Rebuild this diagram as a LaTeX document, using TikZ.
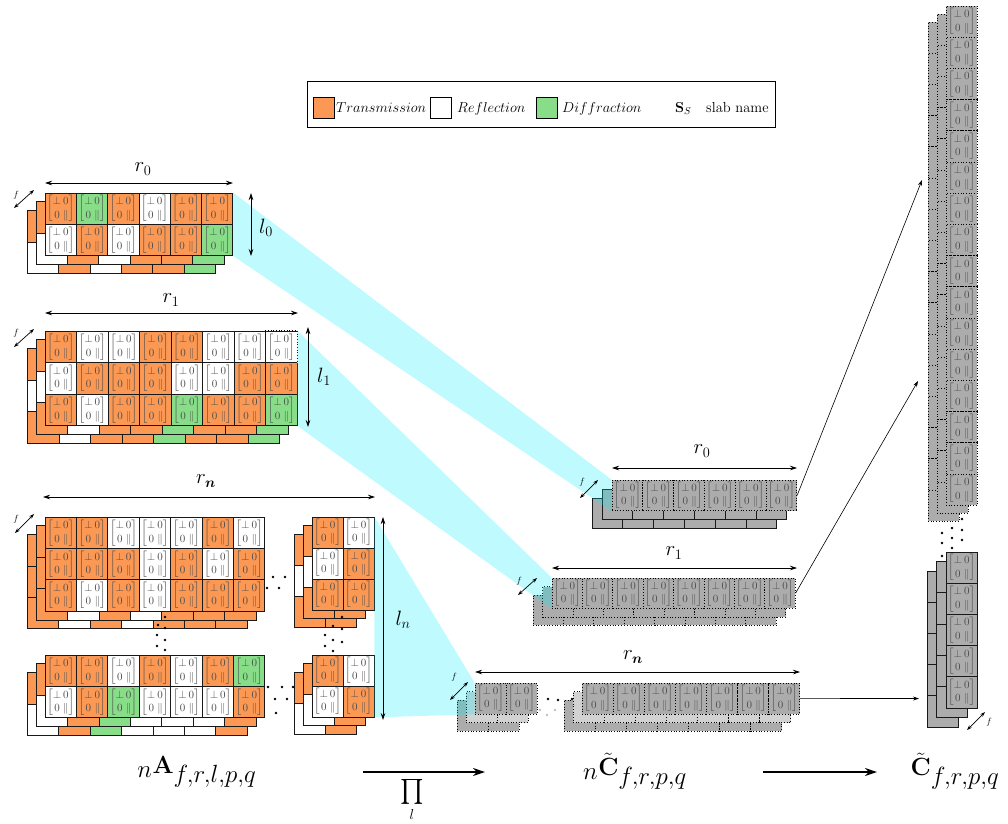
\documentclass[tikz,border=0pt]{standalone}
\usepackage{graphicx}
\usepackage{exscale}
\usepackage{bm}
\usetikzlibrary{arrows.meta}
\DeclareMathSizes{27}{27}{24.5}{17}
\DeclareMathSizes{30}{30}{15}{10}
\DeclareMathSizes{20}{20}{14}{10}
\DeclareMathSizes{14.5}{14.5}{10}{7}
\DeclareMathSizes{10.5}{10.5}{7.5}{5.5}
\definecolor{cO}{RGB}{250,152,84}
\definecolor{cG}{RGB}{136,221,136}
\definecolor{cW}{RGB}{255,255,255}
\definecolor{cD}{RGB}{172,172,172}
\definecolor{cL}{RGB}{210,210,210}
\definecolor{bandcol}{RGB}{0,240,250}
\newcommand\mtx{$\left[\begin{array}{@{}c@{\,}c@{}}\perp&0\\0&\|\end{array}\right]$}
\def\cellsz{31}\def\odx{9}\def\ody{9}\def\lname{x}
\newcommand\mylayer[5]{%
  \foreach \rw [count=\j from 0] in {#3}{%
    \foreach \cc [count=\i from 0] in \rw{%
      \node[cellbox,fill=\cc,#4] (\lname-\j-\i) at ({#1+(\i+0.5)*\cellsz},{#2+(\j+0.5)*\cellsz}) {#5};
    }%
  }%
}
\newcommand\myslab[4]{%
  \def\lname{#4c}\mylayer{#1-2*\odx}{#2+2*\ody}{#3}{}{}%
  \def\lname{#4b}\mylayer{#1-\odx}{#2+\ody}{#3}{}{}%
  \def\lname{#4a}\mylayer{#1}{#2}{#3}{}{\mtx}%
}
\newcommand\mygl[6]{%
  \foreach \j in {1,...,#4}{\foreach \i in {1,...,#3}{%
    \node[cellbox,fill=cD,#5] (\lname-\j-\i) at ({#1+(\i-0.5)*\cellsz},{#2+(\j-0.5)*\cellsz}) {#6};}}%
}
\newcommand\mygslab[8]{%
  \def\lname{#5c}\mygl{#1-2*\odx}{#2+2*\ody}{#3}{#4}{#6}{}%
  \def\lname{#5b}\mygl{#1-\odx}{#2+\ody}{#3}{#4}{#7}{}%
  \def\lname{#5a}\mygl{#1}{#2}{#3}{#4}{#8}{\mtx}%
}
\tikzset{
  cellbox/.style={draw=black!90,line width=0.7pt,minimum size=\cellsz pt,inner sep=0pt,
    text=black!70,font=\fontsize{10.5}{13.5}\selectfont},
  dotb/.style={dotted,draw=black},
  bandc/.style={fill=bandcol,fill opacity=0.25},
  dimarr/.style={{Stealth[length=7pt,width=4.5pt]}-{Stealth[length=7pt,width=4.5pt]},line width=0.7pt},
  farr/.style={{Stealth[length=5pt,width=3.5pt]}-{Stealth[length=5pt,width=3.5pt]},line width=0.7pt},
  conn/.style={-{Stealth[length=6pt,width=4pt]},line width=0.6pt},
  bigarr/.style={-{Stealth[length=12pt,width=8pt]},line width=1.5pt},
  lab/.style={font=\fontsize{20}{24}\selectfont,inner sep=0pt},
  flab/.style={font=\fontsize{9}{10}\selectfont,inner sep=0pt},
  big/.style={font=\fontsize{27}{32}\selectfont,inner sep=0pt},
  legsq/.style={draw,minimum size=21pt,inner sep=0pt,line width=0.7pt},
  legt/.style={font=\fontsize{14.5}{17}\selectfont,inner sep=0pt,anchor=base west},
  dot/.style={fill=black},
  gdot/.style={fill=black!25}
}
\begin{document}
\begin{tikzpicture}[x=1pt,y=-1pt]
\useasboundingbox (0,0) rectangle (1008,823);

% ---------- left slabs ----------
\def\cellsz{31.3}\def\odx{8.8}\def\ody{8.8}
\myslab{45}{193}{{cO,cG,cO,cW,cO,cO},{cW,cO,cW,cO,cO,cG}}{A0}

\def\cellsz{31.5}
\myslab{45}{331}{{cO,cW,cW,cO,cO,cW,cW,cW},{cW,cO,cO,cO,cW,cW,cO,cO},{cO,cW,cO,cO,cG,cO,cO,cG}}{A1}
\draw[white,line width=1.4pt] (A1a-0-7.north west) -- (A1a-0-7.north east) -- (A1a-0-7.south east);
\draw[dotted,line width=0.7pt] (A1a-0-7.north west) -- (A1a-0-7.north east) -- (A1a-0-7.south east);

\def\cellsz{31.4}
\myslab{45}{517}{{cO,cO,cW,cW,cW,cO,cW},{cO,cO,cO,cW,cO,cW,cO},{cO,cW,cO,cW,cO,cO,cO}}{Ant}
\def\cellsz{31}
\myslab{312}{517}{{cO,cW},{cW,cO},{cO,cO}}{Antr}
\def\cellsz{31.4}
\myslab{45}{655}{{cO,cO,cW,cO,cW,cO,cG},{cW,cO,cG,cW,cW,cW,cO}}{Anb}
\def\cellsz{31}
\myslab{312}{655}{{cO,cW},{cW,cO}}{Anbr}

% dots in A_n
\foreach \p in {(273,577),(285,577),(267,588),(279,588),
  (268,687),(282,687),(293,687),(275,699),(287,699),(276,713),
  (165,617),(165,628),(165,640),(165,650),(158,625),(157,635),(157,646),
  (342,617),(342,629),(342,642),(333,626),(333,640),(333,651),(325,635),(325,646)}
  \fill[dot] \p circle (1.3);

% ---------- middle slabs ----------
\def\cellsz{30.8}\def\odx{10}\def\ody{9}
\mygslab{612}{480}{6}{1}{C0}{}{}{dotb}
\def\cellsz{30.4}\def\odx{9.5}\def\ody{8.5}
\mygslab{552}{578}{8}{1}{C1}{dotb}{dotb}{dotb}
\def\cellsz{31}\def\odx{9}\def\ody{8.5}
\mygslab{475}{683}{2}{1}{Cna}{dotb}{dotb,fill=cL}{dotb}
\def\cellsz{31.1}
\mygslab{582}{683}{7}{1}{Cnb}{dotb}{dotb,fill=cL}{dotb}
\foreach \p in {(548,699),(558,700),(572,699)} \fill[dot] \p circle (1.3);
\foreach \p in {(540,710),(547,715),(555,710)} \fill[gdot] \p circle (1.3);

% ---------- right column ----------
\def\cellsz{31.2}\def\odx{9}\def\ody{8}
\mygslab{946}{6}{1}{16}{Rt}{dotb}{dotb}{dotb}
\def\cellsz{31.2}\def\odx{9.5}\def\ody{9.5}
\mygslab{946}{552}{1}{5}{Rb}{}{}{}
\foreach \p in {(962,519),(962,530),(962,540),(952,528),(952,538),(952,548),(942,533),(942,543),(942,556)}
  \fill[dot] \p circle (1.3);

% ---------- cyan bands ----------
\fill[bandc] (A0a-0-5.north east) -- (A0a-1-5.south east) -- (C0a-1-1.south west) -- (C0a-1-1.north west) -- cycle;
\fill[bandc] (A1a-0-7.north east) -- (A1a-2-7.south east) -- (C1a-1-1.south west) -- (C1a-1-1.north west) -- cycle;
\fill[bandc] (Antra-0-1.north east) -- (Anbra-1-1.south east) -- (Cnaa-1-1.south west) -- (Cnaa-1-1.north west) -- cycle;

% ---------- dimension arrows ----------
\coordinate (r0s) at (45,183); \coordinate (r0e) at (233,183);
\coordinate (l0s) at (251,193); \coordinate (l0e) at (251,256);
\coordinate (r1s) at (45,313); \coordinate (r1e) at (298,313);
\coordinate (l1s) at (308,327); \coordinate (l1e) at (308,427);
\coordinate (rns) at (43,497); \coordinate (rne) at (375,497);
\coordinate (lns) at (383,517); \coordinate (lne) at (383,720);
\coordinate (cr0s) at (612,468); \coordinate (cr0e) at (797,468);
\coordinate (cr1s) at (552,568); \coordinate (cr1e) at (797,568);
\coordinate (crns) at (475,672); \coordinate (crne) at (800,672);
\draw[dimarr] (r0s) -- (r0e);
\draw[dimarr] (l0s) -- (l0e);
\draw[dimarr] (r1s) -- (r1e);
\draw[dimarr] (l1s) -- (l1e);
\draw[dimarr] (rns) -- (rne);
\draw[dimarr] (lns) -- (lne);
\draw[dimarr] (cr0s) -- (cr0e);
\draw[dimarr] (cr1s) -- (cr1e);
\draw[dimarr] (crns) -- (crne);
\node[lab] (tr0) at (143,169) {$r_0$};
\node[lab] (tl0) at (266,228) {$l_0$};
\node[lab] (tr1) at (171,300) {$r_1$};
\node[lab] (tl1) at (324,377) {$l_1$};
\node[lab] (trn) at (206,481) {$r_{\bm{n}}$};
\node[lab] (tln) at (403,620) {$l_n$};
\node[lab] (tcr0) at (702,451) {$r_0$};
\node[lab] (tcr1) at (674,553) {$r_1$};
\node[lab] (tcrn) at (633,657) {$r_{\bm{n}}$};

% ---------- f arrows ----------
\coordinate (f0s) at (14,208); \coordinate (f0e) at (34,190);
\coordinate (f1s) at (14,347); \coordinate (f1e) at (34,329);
\coordinate (fns) at (15,533); \coordinate (fne) at (34,514);
\coordinate (g0s) at (580,498); \coordinate (g0e) at (598,480);
\coordinate (g1s) at (518,595); \coordinate (g1e) at (537,578);
\coordinate (gns) at (450,700); \coordinate (gne) at (468,682);
\coordinate (hs) at (967,730); \coordinate (he) at (985,712);
\foreach \a/\b in {f0s/f0e,f1s/f1e,fns/fne,g0s/g0e,g1s/g1e,gns/gne,hs/he}
  \draw[farr] (\a) -- (\b);
\node[flab] (ff0) at (16,195) {$f$};
\node[flab] (ff1) at (16,333) {$f$};
\node[flab] (ffn) at (16,519) {$f$};
\node[flab] (fg0) at (582,482) {$f$};
\node[flab] (fg1) at (519,581) {$f$};
\node[flab] (fgn) at (454,677) {$f$};
\node[flab] (fh) at (989,722) {$f$};

% ---------- connectors to right column ----------
\coordinate (t0) at (922,180);
\coordinate (t1) at (918,381);
\coordinate (tn) at (919,698.5);
\draw[conn] (C0a-1-6.east) -- (t0);
\draw[conn] (C1a-1-8.east) -- (t1);
\draw[conn] (Cnba-1-7.east) -- (tn);

% ---------- legend ----------
\node[draw,line width=0.8pt,minimum width=468pt,minimum height=46pt,inner sep=0pt,anchor=north west] (leg) at (307,81) {};
\node[legsq,fill=cO] (lgO) at (323.5,107.5) {};
\node[legt] (lgOt) at (336,112) {$Transmission$};
\node[legsq,fill=white] (lgW) at (441,107.5) {};
\node[legt] (lgWt) at (457,112) {$Reflection$};
\node[legsq,fill=cG] (lgG) at (546.5,107.5) {};
\node[legt] (lgGt) at (562,112) {$Diffraction$};
\node[legt] (lgS) at (675,112) {$\mathbf{S}_{S}$};
\node[legt] (lgSt) at (706,112) {slab name};

% ---------- bottom labels ----------
\node[big] (labA) at (197,772) {${}_{n}\mathbf{A}_{f,r,l,p,q}$};
\node[big] (labCn) at (635,771) {${}_{n}\tilde{\mathbf{C}}_{f,r,p,q}$};
\node[big] (labC) at (955,771) {$\tilde{\mathbf{C}}_{f,r,p,q}$};
\coordinate (a1s) at (363,772); \coordinate (a1e) at (485,772);
\coordinate (a2s) at (763,772); \coordinate (a2e) at (877,772);
\draw[bigarr] (a1s) -- (a1e);
\draw[bigarr] (a2s) -- (a2e);
\node[inner sep=0pt,anchor=north,font=\fontsize{30}{36}\selectfont] (prod) at (412,779) {$\prod\limits_{l}$};
\end{tikzpicture}
\end{document}
